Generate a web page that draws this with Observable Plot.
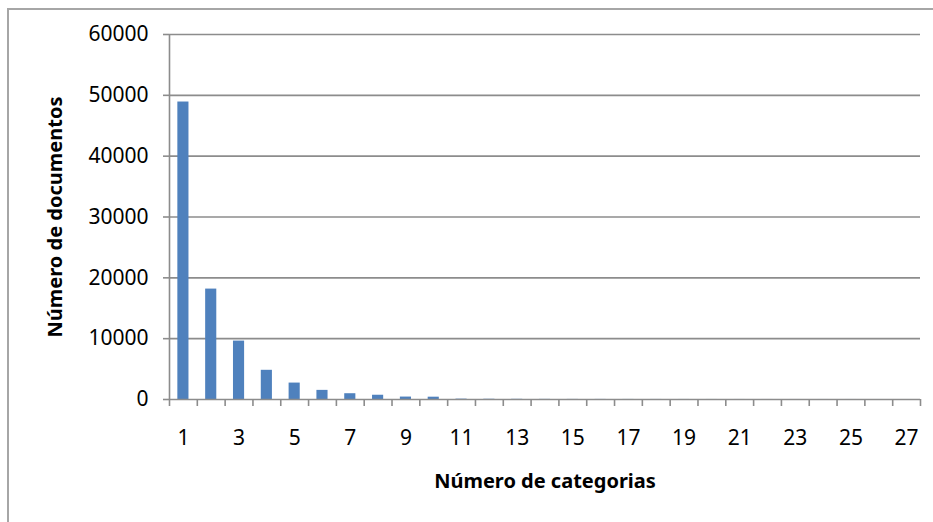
<!DOCTYPE html>
<html>
<head>
<meta charset="utf-8">
<script src="https://cdn.jsdelivr.net/npm/d3@7"></script>
<script src="https://cdn.jsdelivr.net/npm/@observablehq/plot@0.6"></script>
<style>
  html, body { margin: 0; padding: 0; background: #fff; overflow: hidden; }
  #wrap { position: relative; width: 933px; height: 522px; }
  #border { position: absolute; left: 7px; top: 8px; width: 1000px; height: 600px;
            border-left: 2px solid #a6a6a6; border-top: 2px solid #a6a6a6; }
  #chart { position: absolute; left: 0; top: 0; }
</style>
</head>
<body>
<div id="wrap"><div id="border"></div><div id="chart"></div></div>
<script>
const categories = [1,2,3,4,5,6,7,8,9,10,11,12,13,14,15,16,17,18,19,20,21,22,23,24,25,26,27];
const documentos = [48900,18150,9600,4800,2700,1500,950,700,400,380,60,40,30,20,15,12,10,8,6,5,4,3,3,2,2,1,1];
const xTickLabels = [1,3,5,7,9,11,13,15,17,19,21,23,25,27];
const yTicks = [0,10000,20000,30000,40000,50000,60000];
const xTitle = "Número de categorias";
const yTitle = "Número de documentos";

const data = categories.map((n, i) => ({n, count: documentos[i]}));
const bounds = [0.5, ...categories.map(n => n + 0.5)];
const grey = "#8c8c8c";

const chart = Plot.plot({
  width: 933,
  height: 522,
  marginLeft: 169,
  marginRight: 13,
  marginTop: 34,
  marginBottom: 123,
  style: {fontFamily: "'Noto Sans', sans-serif", background: "transparent", color: "#000"},
  x: {type: "linear", domain: [0.5, 27.5], axis: null},
  y: {domain: [0, 60000], axis: null},
  marks: [
    Plot.gridY(yTicks.filter(d => d > 0), {stroke: grey, strokeOpacity: 1, strokeWidth: 1.6}),
    Plot.rectY(data, {x1: d => d.n - 0.2, x2: d => d.n + 0.2, y: "count", fill: "#4f81bd"}),
    Plot.ruleY([0], {stroke: grey, strokeWidth: 1.6}),
    Plot.ruleX([0.5], {stroke: grey, strokeWidth: 1.6}),
    Plot.axisY(yTicks, {tickSize: 6, tickPadding: 15, stroke: grey, strokeWidth: 1.6, fill: "#000", fontSize: 21, label: null, tickFormat: d => String(d)}),
    Plot.axisX(bounds, {tickSize: 7, stroke: grey, strokeWidth: 1.6, fill: "none", label: null}),
    Plot.axisX(xTickLabels, {tickSize: 0, tickPadding: 31, fill: "#000", fontSize: 21, label: null, tickFormat: d => String(d)}),
    Plot.text([xTitle], {frameAnchor: "bottom", dy: 88, text: d => d, fontWeight: "bold", fontSize: 20, fill: "#000"}),
    Plot.text([yTitle], {frameAnchor: "left", dx: -114, rotate: -90, textAnchor: "middle", lineAnchor: "middle", text: d => d, fontWeight: "bold", fontSize: 20, fill: "#000"})
  ]
});
document.getElementById("chart").appendChild(chart);
</script>
</body>
</html>
